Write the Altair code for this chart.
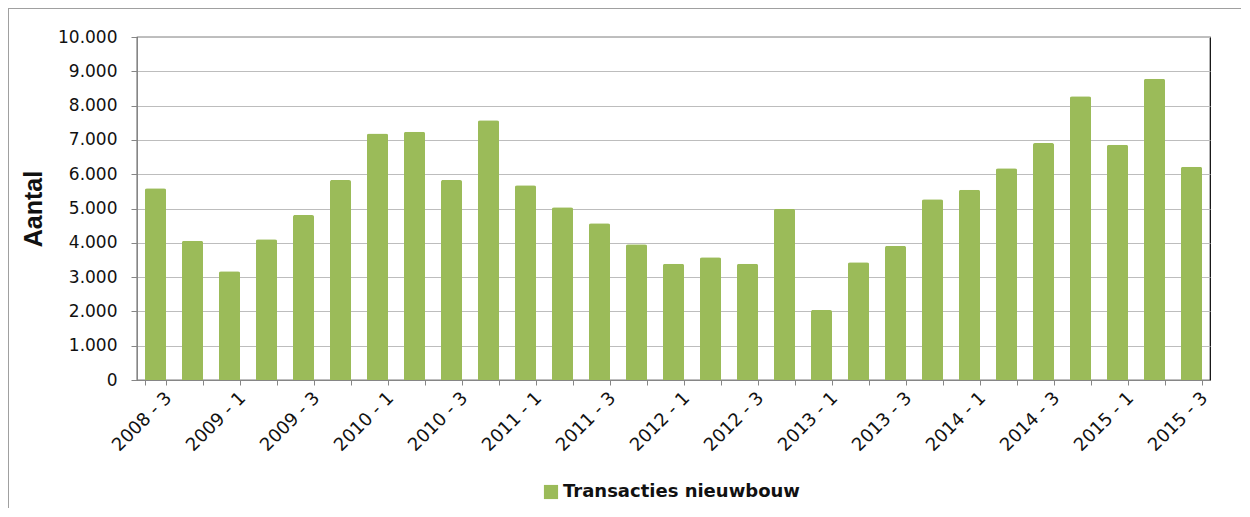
import altair as alt
import pandas as pd

periods = [
    "2008 - 3", "2008 - 4",
    "2009 - 1", "2009 - 2", "2009 - 3", "2009 - 4",
    "2010 - 1", "2010 - 2", "2010 - 3", "2010 - 4",
    "2011 - 1", "2011 - 2", "2011 - 3", "2011 - 4",
    "2012 - 1", "2012 - 2", "2012 - 3", "2012 - 4",
    "2013 - 1", "2013 - 2", "2013 - 3", "2013 - 4",
    "2014 - 1", "2014 - 2", "2014 - 3", "2014 - 4",
    "2015 - 1", "2015 - 2", "2015 - 3",
]
values = [
    5590, 4060,
    3170, 4100, 4810, 5830,
    7190, 7240, 5830, 7570,
    5680, 5040, 4570, 3960,
    3390, 3580, 3390, 4990,
    2040, 3430, 3910, 5270,
    5550, 6170, 6910, 8270,
    6860, 8780, 6220,
]
series_name = "Transacties nieuwbouw"
y_ticks = [0, 1000, 2000, 3000, 4000, 5000, 6000, 7000, 8000, 9000, 10000]

df = pd.DataFrame({"periode": periods, "aantal": values, "reeks": series_name})

PLOT_W, PLOT_H = 1073, 343

bars = alt.Chart(df).mark_bar(cornerRadiusEnd=2).encode(
    x=alt.X(
        "periode:N",
        sort=periods,
        title=None,
        scale=alt.Scale(paddingInner=0.43, paddingOuter=0.215),
        axis=alt.Axis(
            labelAngle=-45,
            labelAlign="right",
            labelBaseline="middle",
            labelFont="DejaVu Sans",
            labelFontSize=18,
            labelColor="#111111",
            labelPadding=10,
            labelOffset=13,
            labelOverlap=False,
            labelExpr="test(/[13]$/, datum.value) ? datum.value : ''",
            tickBand="extent",
            tickOffset=-8,
            tickSize=5,
            tickColor="#868686",
            domainColor="#868686",
            grid=False,
        ),
    ),
    y=alt.Y(
        "aantal:Q",
        title="Aantal",
        scale=alt.Scale(domain=[0, 10000], nice=False),
        axis=alt.Axis(
            values=y_ticks,
            labelExpr="replace(format(datum.value, ','), ',', '.')",
            labelFont="DejaVu Sans",
            labelFontSize=17,
            labelColor="#111111",
            labelPadding=14,
            tickSize=6,
            tickColor="#868686",
            domainColor="#868686",
            gridColor="#bdbdbd",
            gridWidth=1,
            titleFont="Liberation Sans",
            titleFontSize=25,
            titleFontWeight="bold",
            titleColor="#111111",
            titleAngle=-90,
            titleX=-104,
            titleY=PLOT_H / 2,
            titleAlign="center",
            titleBaseline="middle",
        ),
    ),
    color=alt.Color(
        "reeks:N",
        scale=alt.Scale(range=["#9BBB59"]),
        legend=alt.Legend(
            title=None,
            orient="none",
            legendX=405,
            legendY=446,
            symbolType="square",
            symbolSize=200,
            symbolStrokeWidth=0,
            labelFont="DejaVu Sans",
            labelFontSize=18,
            labelFontWeight="bold",
            labelColor="#111111",
            labelOffset=3,
            labelLimit=0,
        ),
    ),
)

frame = alt.Chart(df).mark_rect(
    fill=None, stroke="#a0a0a0", strokeWidth=1
).encode(
    x=alt.value(-128.5),
    x2=alt.value(1104.5),
    y=alt.value(-28.5),
    y2=alt.value(500),
)

chart = alt.layer(bars, frame).properties(
    width=PLOT_W,
    height=PLOT_H,
    padding={"left": 129, "top": 29, "right": 31, "bottom": 128},
    autosize=alt.AutoSizeParams(type="none"),
    background="white",
).configure_view(
    stroke="#000000", strokeWidth=1.2
)

chart.save("out.html", embed_options={"renderer": "svg", "actions": False})
